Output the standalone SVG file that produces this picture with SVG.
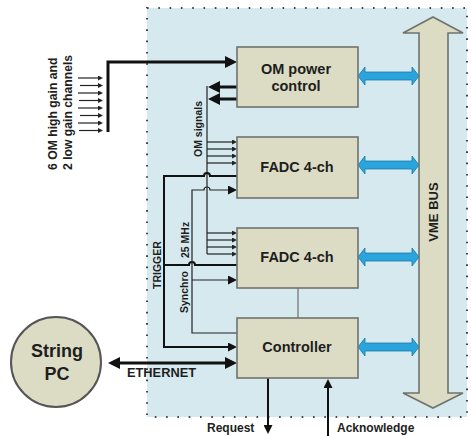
<svg xmlns="http://www.w3.org/2000/svg" width="471" height="436" viewBox="0 0 471 436">
  <style>
    text { font-family: "Liberation Sans", Arial, sans-serif; font-weight: bold; fill: #1e1e1e; }
    .box { fill: #dcdcc5; stroke: #70736c; stroke-width: 1.6; }
    .label { font-size: 14.5px; text-anchor: middle; }
    .sig { font-size: 10.5px; }
    .thick { fill: none; stroke: #111; stroke-width: 3; }
    .mid { fill: none; stroke: #111; stroke-width: 2; }
    .thin { fill: none; stroke: #222; stroke-width: 1.2; }
    .vme { fill: #29a4dd; stroke: #1b78a8; stroke-width: 0.8; }
  </style>
  <defs>
    <marker id="big" viewBox="0 0 12 12" markerWidth="12" markerHeight="12" refX="6" refY="6" markerUnits="userSpaceOnUse" orient="auto-start-reverse">
      <path d="M0,0 L12,6 L0,12 z" fill="#111"/>
    </marker>
    <marker id="med" viewBox="0 0 9 9" markerWidth="9" markerHeight="9" refX="4" refY="4.5" markerUnits="userSpaceOnUse" orient="auto-start-reverse">
      <path d="M0,0 L9,4.5 L0,9 z" fill="#111"/>
    </marker>
    <marker id="sm" viewBox="0 0 5 5" markerWidth="5" markerHeight="5" refX="2" refY="2.5" markerUnits="userSpaceOnUse" orient="auto">
      <path d="M0,0 L5,2.5 L0,5 z" fill="#222"/>
    </marker>
    <!-- double-headed bus link, drawn around y=0 from x=358 to x=419 -->
    <path id="buslink" class="vme" d="M358,0 L365,-9 L365,-4 L412,-4 L412,-9 L419,0 L412,9 L412,4 L365,4 L365,9 z"/>
  </defs>

  <!-- crate area -->
  <rect x="147" y="8" width="320" height="409" fill="#d6e9ef"/>
  <rect x="147" y="8" width="320" height="409" fill="none" stroke="#444" stroke-width="2" stroke-dasharray="1.6 9.7"/>

  <!-- VME bus -->
  <g id="vme-bus">
    <polygon points="433,17 463,33 448,33 448,393 463,393 433,408 403,393 419,393 419,33 403,33" fill="#dcdcc5" stroke="#70736c" stroke-width="1.6"/>
    <text x="438" y="212" font-size="13" text-anchor="middle" transform="rotate(-90 438 212)">VME BUS</text>
  </g>

  <g id="connectors">
    <!-- links to the bus -->
    <use href="#buslink" y="76"/>
    <use href="#buslink" y="165"/>
    <use href="#buslink" y="257"/>
    <use href="#buslink" y="347"/>

    <!-- analogue inputs -->
    <g class="thin" stroke-width="1">
      <path d="M78,78 H100" marker-end="url(#sm)"/>
      <path d="M80,85.5 H100" marker-end="url(#sm)"/>
      <path d="M78,93 H100" marker-end="url(#sm)"/>
      <path d="M79,100.5 H100" marker-end="url(#sm)"/>
      <path d="M78,108 H100" marker-end="url(#sm)"/>
      <path d="M80,115.5 H100" marker-end="url(#sm)"/>
      <path d="M78,123 H100" marker-end="url(#sm)"/>
      <path d="M79,130.5 H100" marker-end="url(#sm)"/>
    </g>
    <path class="thick" d="M108,132 V62 H231" marker-end="url(#big)"/>

    <!-- OM power control outputs -->
    <path class="thick" d="M237,87 H214" marker-end="url(#big)"/>
    <path class="thick" d="M237,99 H214" marker-end="url(#big)"/>

    <!-- OM signals bus -->
    <path class="thin" d="M207,86 V254"/>
    <path class="thin" d="M207,142 H234" marker-end="url(#sm)"/>
    <path class="thin" d="M207,149 H234" marker-end="url(#sm)"/>
    <path class="thin" d="M207,156 H234" marker-end="url(#sm)"/>
    <path class="thin" d="M207,163 H234" marker-end="url(#sm)"/>
    <path class="thin" d="M207,233 H234" marker-end="url(#sm)"/>
    <path class="thin" d="M207,240 H234" marker-end="url(#sm)"/>
    <path class="thin" d="M207,247 H234" marker-end="url(#sm)"/>
    <path class="thin" d="M207,254 H234" marker-end="url(#sm)"/>

    <!-- trigger -->
    <path class="mid" d="M237,176 H210 a3,3 0 0 0 -6,0 H164 V347 H232" marker-end="url(#med)"/>
    <path class="mid" d="M237,265 H195 a3,3 0 0 0 -6,0 H164"/>

    <!-- 25 MHz / synchro -->
    <path class="thin" stroke-width="1.4" d="M237,333 H192 V190 H204 a3,3 0 0 1 6,0 H232" marker-end="url(#med)"/>
    <path class="thin" stroke-width="1.4" d="M192,280 H232" marker-end="url(#med)"/>

    <!-- FADC to controller -->
    <path d="M298,288 V318" fill="none" stroke="#777" stroke-width="1.3"/>

    <!-- ethernet -->
    <path class="thick" d="M114,363 H231" marker-start="url(#big)" marker-end="url(#big)"/>

    <!-- request / acknowledge -->
    <path class="mid" d="M268,378 V429" marker-end="url(#med)"/>
    <path class="mid" d="M328,436 V384" marker-end="url(#med)"/>
  </g>

  <g id="om-power">
    <rect class="box" x="237" y="47" width="121" height="60"/>
    <text class="label" x="296" y="74">OM power</text>
    <text class="label" x="296" y="91">control</text>
  </g>
  <g id="fadc-1">
    <rect class="box" x="237" y="137" width="121" height="61"/>
    <text class="label" x="297" y="172">FADC 4-ch</text>
  </g>
  <g id="fadc-2">
    <rect class="box" x="237" y="228" width="121" height="60"/>
    <text class="label" x="297" y="262">FADC 4-ch</text>
  </g>
  <g id="controller">
    <rect class="box" x="237" y="318" width="121" height="60"/>
    <text class="label" x="297" y="352">Controller</text>
  </g>
  <g id="string-pc">
    <circle cx="56" cy="362" r="45" fill="#dcdcc5" stroke="#555" stroke-width="2"/>
    <text x="57" y="357" font-size="18" text-anchor="middle">String</text>
    <text x="57" y="380" font-size="18" text-anchor="middle">PC</text>
  </g>

  <!-- signal labels -->
  <g id="labels">
    <text font-size="12.2" transform="translate(57 170) rotate(-90)">6 OM high gain and</text>
    <text font-size="12.2" transform="translate(72 170) rotate(-90)">2 low gain channels</text>
    <text class="sig" font-size="10.3" transform="translate(202 157) rotate(-90)">OM signals</text>
    <text class="sig" font-size="10" transform="translate(161 289) rotate(-90)">TRIGGER</text>
    <text class="sig" transform="translate(189 258) rotate(-90)">25 MHz</text>
    <text class="sig" transform="translate(188 313) rotate(-90)">Synchro</text>
    <text x="127" y="377" font-size="12.5" textLength="69" lengthAdjust="spacingAndGlyphs">ETHERNET</text>
    <text x="207" y="432" font-size="12">Request</text>
    <text x="337" y="432" font-size="12">Acknowledge</text>
  </g>
</svg>
